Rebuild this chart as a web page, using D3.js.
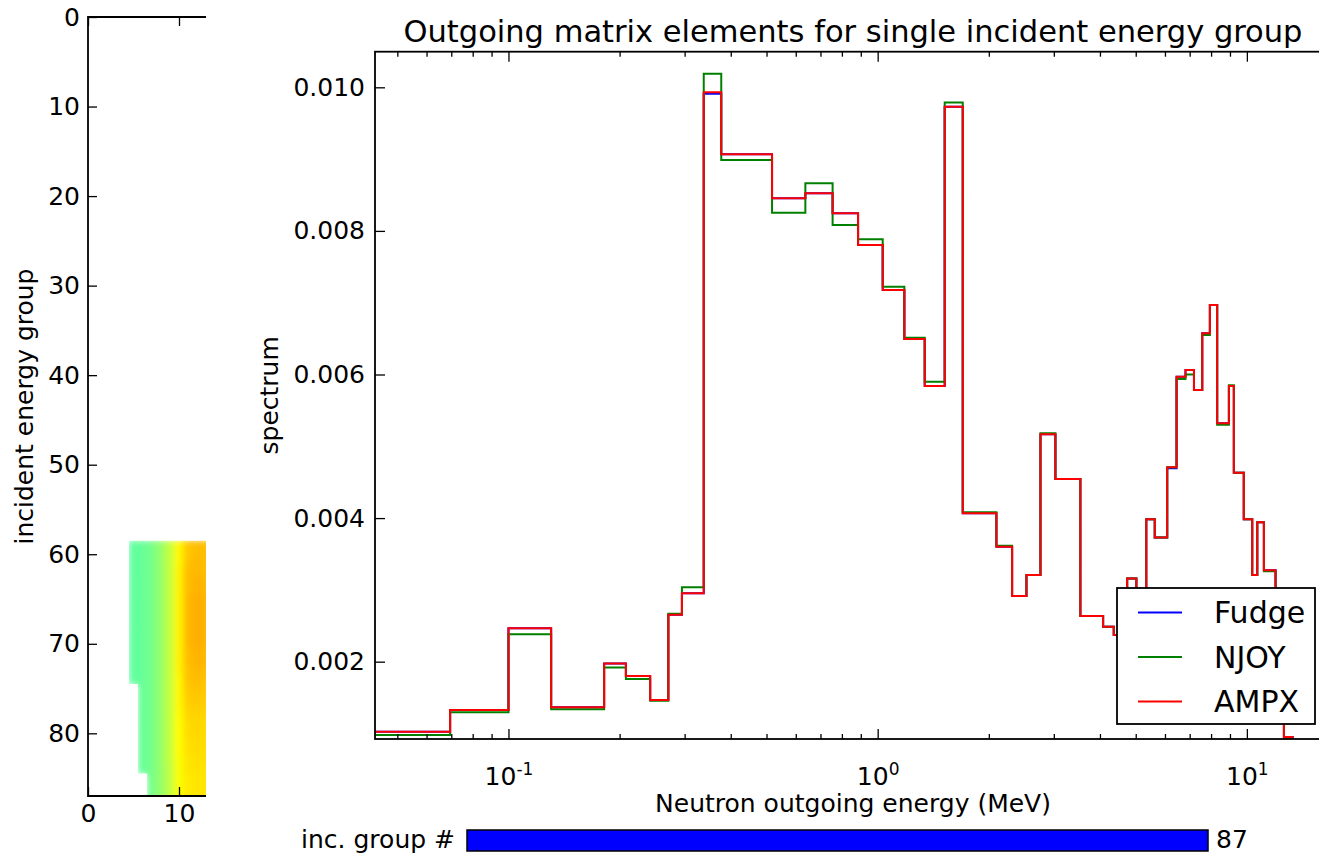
<!DOCTYPE html>
<html>
<head>
<meta charset="utf-8">
<title>Outgoing matrix elements</title>
<style>
body { margin: 0; background: #ffffff; }
svg { display: block; font-family: "DejaVu Sans", sans-serif; }
</style>
</head>
<body>
<script src="https://d3js.org/d3.v7.min.js"></script>
<script>

var W = 1319, H = 856;

// outgoing group boundaries (MeV)
var edges = [0.04, 0.0695, 0.1, 0.1305, 0.1816, 0.208, 0.242, 0.271, 0.295, 0.338,
  0.377, 0.5175, 0.637, 0.755, 0.885, 1.032, 1.181, 1.341, 1.519, 1.70,
  2.097, 2.313, 2.529, 2.76, 3.03, 3.54, 4.08, 4.36, 4.74, 5.02,
  5.34, 5.63, 6.085, 6.45, 6.82, 7.19, 7.57, 7.94, 8.31, 8.94,
  9.22, 9.81, 10.34, 10.67, 11.12, 11.96, 12.6, 13.3, 17.0];

var fudge = [0.001025, 0.001327, 0.002465, 0.001365, 0.001974, 0.001799, 0.001466, 0.002654, 0.002953, 0.00991,
  0.009067, 0.008454, 0.008524, 0.008245, 0.007804, 0.007177, 0.006494, 0.005840, 0.00973, 0.004067,
  0.003602, 0.002915, 0.003208, 0.005167, 0.004545, 0.002637, 0.002488, 0.00237, 0.003157, 0.0029,
  0.003984, 0.003731, 0.004695, 0.005969, 0.006063, 0.005784, 0.006574, 0.006968, 0.00532, 0.00584,
  0.004633, 0.003984, 0.003207, 0.003942, 0.003272, 0.0027, 0.00095, 0.0008];

var njoy = [0.000979, 0.001295, 0.002382, 0.001337, 0.001919, 0.001757, 0.001456, 0.002668, 0.003036, 0.01019,
  0.008988, 0.008253, 0.008663, 0.008082, 0.007883, 0.007223, 0.006513, 0.0059, 0.00979, 0.004081,
  0.003616, 0.002915, 0.003208, 0.00518, 0.004545, 0.002637, 0.002488, 0.002372, 0.003157, 0.0029,
  0.003984, 0.003731, 0.004708, 0.005937, 0.006, 0.005784, 0.00655, 0.006968, 0.0053, 0.00585,
  0.004633, 0.003984, 0.003207, 0.003942, 0.00326, 0.0027, 0.00094, 0.0008];

var ampx = [0.001025, 0.001327, 0.002465, 0.001365, 0.001974, 0.001799, 0.001466, 0.002654, 0.002953, 0.00993,
  0.009067, 0.008454, 0.008524, 0.008245, 0.007804, 0.007177, 0.006494, 0.005840, 0.00973, 0.004067,
  0.003602, 0.002915, 0.003208, 0.005167, 0.004545, 0.002637, 0.002488, 0.00237, 0.003157, 0.0029,
  0.003984, 0.003731, 0.004708, 0.005969, 0.006063, 0.005784, 0.006574, 0.006968, 0.00532, 0.00584,
  0.004633, 0.003984, 0.003207, 0.003942, 0.003272, 0.0027, 0.00095, 0.0008];

var seriesNames = ["Fudge", "NJOY", "AMPX"];
var seriesColors = ["#0000ff", "#008000", "#ff0000"];

var yTicks = [0.002, 0.004, 0.006, 0.008, 0.010];
var xTicks = [0.1, 1, 10];
var xTickExp = ["-1", "0", "1"];
var xMinor = [0.05, 0.06, 0.07, 0.08, 0.09, 0.2, 0.3, 0.4, 0.5, 0.6, 0.7, 0.8, 0.9,
  2, 3, 4, 5, 6, 7, 8, 9];

// left panel: matrix image (incident group rows x outgoing group cols)
var heatRows = [59, 60, 61, 62, 63, 64, 65, 66, 67, 68, 69, 70, 71, 72, 73, 74,
  75, 76, 77, 78, 79, 80, 81, 82, 83, 84, 85, 86, 87];
var heatCols = [5, 6, 7, 8, 9, 10, 11, 12, 13];
var heatVals = [
  [0.47, 0.475, 0.49, 0.52, 0.565, 0.63, 0.68, 0.69, 0.69],
  [0.47, 0.475, 0.49, 0.52, 0.565, 0.63, 0.68, 0.69, 0.69],
  [0.47, 0.475, 0.49, 0.52, 0.565, 0.63, 0.685, 0.695, 0.69],
  [0.47, 0.475, 0.49, 0.52, 0.565, 0.635, 0.69, 0.695, 0.69],
  [0.47, 0.475, 0.49, 0.52, 0.565, 0.635, 0.69, 0.70, 0.695],
  [0.47, 0.475, 0.49, 0.52, 0.565, 0.635, 0.69, 0.70, 0.695],
  [0.47, 0.475, 0.49, 0.52, 0.565, 0.635, 0.695, 0.705, 0.70],
  [0.47, 0.475, 0.49, 0.52, 0.565, 0.635, 0.695, 0.705, 0.70],
  [0.47, 0.475, 0.49, 0.52, 0.565, 0.635, 0.695, 0.705, 0.70],
  [0.47, 0.475, 0.49, 0.52, 0.565, 0.635, 0.695, 0.705, 0.70],
  [0.47, 0.475, 0.49, 0.52, 0.565, 0.635, 0.695, 0.705, 0.70],
  [0.47, 0.475, 0.49, 0.52, 0.565, 0.635, 0.695, 0.705, 0.70],
  [0.47, 0.475, 0.49, 0.52, 0.565, 0.635, 0.69, 0.70, 0.695],
  [0.47, 0.475, 0.49, 0.52, 0.565, 0.635, 0.69, 0.70, 0.695],
  [0.47, 0.475, 0.49, 0.52, 0.565, 0.635, 0.685, 0.695, 0.69],
  [0.47, 0.475, 0.49, 0.52, 0.565, 0.63, 0.685, 0.69, 0.685],
  [null, 0.475, 0.49, 0.52, 0.565, 0.63, 0.68, 0.685, 0.68],
  [null, 0.475, 0.49, 0.52, 0.565, 0.63, 0.675, 0.68, 0.675],
  [null, 0.475, 0.49, 0.52, 0.565, 0.63, 0.67, 0.675, 0.67],
  [null, 0.475, 0.49, 0.52, 0.565, 0.625, 0.665, 0.67, 0.665],
  [null, 0.475, 0.49, 0.52, 0.565, 0.625, 0.66, 0.665, 0.66],
  [null, 0.475, 0.49, 0.52, 0.565, 0.625, 0.66, 0.665, 0.66],
  [null, 0.475, 0.49, 0.52, 0.565, 0.625, 0.655, 0.66, 0.66],
  [null, 0.475, 0.49, 0.52, 0.565, 0.625, 0.655, 0.66, 0.655],
  [null, 0.475, 0.49, 0.52, 0.565, 0.62, 0.65, 0.655, 0.655],
  [null, 0.475, 0.49, 0.52, 0.56, 0.62, 0.65, 0.655, 0.65],
  [null, null, 0.49, 0.52, 0.56, 0.62, 0.645, 0.65, 0.65],
  [null, null, 0.49, 0.52, 0.56, 0.62, 0.645, 0.65, 0.65],
  [null, null, 0.49, 0.52, 0.56, 0.62, 0.645, 0.65, 0.65]
];
var groupTicks = [0, 10, 20, 30, 40, 50, 60, 70, 80];
var colTicks = [0, 10];
var incGroup = 87;
var nGroups = 87;

var svg = d3.select("body").append("svg")
  .attr("width", W)
  .attr("height", H);

var defs = svg.append("defs");

// ---------- main axes ----------
var mL = 375, mR = 1331, mT = 51.7, mB = 739;
var x = d3.scaleLog().domain([0.0435, 16.9]).range([mL, mR]);
var y = d3.scaleLinear().domain([0.000923, 0.010496]).range([mB, mT]);

defs.append("clipPath").attr("id", "mainClip")
  .append("rect").attr("x", mL).attr("y", mT).attr("width", mR - mL).attr("height", mB - mT);

var line = d3.line()
  .x(function(d) { return x(d[0]); })
  .y(function(d) { return y(d[1]); })
  .curve(d3.curveStepAfter);

function stepPoints(vals) {
  var pts = vals.map(function(v, i) { return [edges[i], v]; });
  pts.push([edges[edges.length - 1], vals[vals.length - 1]]);
  return pts;
}

var plot = svg.append("g").attr("clip-path", "url(#mainClip)");
[fudge, njoy, ampx].forEach(function(vals, k) {
  plot.append("path")
    .attr("d", line(stepPoints(vals)))
    .attr("fill", "none")
    .attr("stroke", seriesColors[k])
    .attr("stroke-width", 2);
});

// ticks (pointing inward)
function styleAxis(g) {
  g.select(".domain").remove();
  g.selectAll(".tick line").attr("stroke", "#000").attr("stroke-width", 1.3);
  g.selectAll(".tick text").attr("fill", "#000").attr("font-size", 25)
    .attr("font-family", "DejaVu Sans, sans-serif");
}

svg.append("g").attr("transform", "translate(0," + mB + ")")
  .call(d3.axisBottom(x).tickValues(xMinor).tickSize(-5).tickFormat(""))
  .call(styleAxis);
svg.append("g").attr("transform", "translate(0," + mT + ")")
  .call(d3.axisTop(x).tickValues(xMinor).tickSize(-5).tickFormat(""))
  .call(styleAxis);
svg.append("g").attr("transform", "translate(0," + mT + ")")
  .call(d3.axisTop(x).tickValues(xTicks).tickSize(-10).tickFormat(""))
  .call(styleAxis);

var xAx = svg.append("g").attr("transform", "translate(0," + mB + ")")
  .call(d3.axisBottom(x).tickValues(xTicks).tickSize(-10).tickPadding(28).tickFormat(""))
  .call(styleAxis);
xAx.selectAll(".tick text").each(function(d, i) {
  var t = d3.select(this).attr("dy", "0.71em");
  t.append("tspan").text("10");
  t.append("tspan").text(xTickExp[i]).attr("font-size", 17).attr("dy", "-0.55em");
});

svg.append("g").attr("transform", "translate(" + mL + ",0)")
  .call(d3.axisLeft(y).tickValues(yTicks).tickSize(-10).tickPadding(10).tickFormat(d3.format(".3f")))
  .call(styleAxis);
svg.append("g").attr("transform", "translate(" + mR + ",0)")
  .call(d3.axisRight(y).tickValues(yTicks).tickSize(-10).tickFormat(""))
  .call(styleAxis);

svg.append("rect")
  .attr("x", mL).attr("y", mT).attr("width", mR - mL).attr("height", mB - mT)
  .attr("fill", "none").attr("stroke", "#000").attr("stroke-width", 1.8);

svg.append("text")
  .attr("x", (mL + mR) / 2).attr("y", 41.7)
  .attr("text-anchor", "middle").attr("font-size", 30.5).attr("fill", "#000")
  .text("Outgoing matrix elements for single incident energy group");

svg.append("text")
  .attr("x", (mL + mR) / 2).attr("y", 812)
  .attr("text-anchor", "middle").attr("font-size", 25).attr("fill", "#000")
  .text("Neutron outgoing energy (MeV)");

svg.append("text")
  .attr("transform", "translate(278," + (mT + mB) / 2 + ") rotate(-90)")
  .attr("text-anchor", "middle").attr("font-size", 25).attr("fill", "#000")
  .text("spectrum");

// legend
var lg = svg.append("g");
lg.append("rect")
  .attr("x", 1117).attr("y", 588).attr("width", 198).attr("height", 136)
  .attr("fill", "#fff").attr("stroke", "#000").attr("stroke-width", 1.8);
seriesNames.forEach(function(name, i) {
  var yy = 612.5 + i * 44.5;
  lg.append("line")
    .attr("x1", 1138).attr("x2", 1182).attr("y1", yy).attr("y2", yy)
    .attr("stroke", seriesColors[i]).attr("stroke-width", 2);
  lg.append("text")
    .attr("x", 1214).attr("y", yy).attr("dy", "0.36em")
    .attr("font-size", 30).attr("fill", "#000")
    .text(name);
});

// ---------- left panel (matrix image) ----------
var lL = 88, lT = 17, lB = 796, lClipR = 206;
var xl = d3.scaleLinear().domain([0, 10]).range([lL, 179]);
var yl = d3.scaleLinear().domain([0, 87]).range([lT, lB]);

function jet(v) {
  var c = function(t) { return Math.round(255 * Math.max(0, Math.min(1, t))); };
  return d3.rgb(c(1.5 - Math.abs(4 * v - 3)), c(1.5 - Math.abs(4 * v - 2)), c(1.5 - Math.abs(4 * v - 1)));
}

var cells = [];
heatRows.forEach(function(r, i) {
  heatCols.forEach(function(cIdx, j) {
    var v = heatVals[i][j];
    if (v !== null) cells.push({ r: r, c: cIdx, v: v });
  });
});

function cellPath(d) {
  var x0 = xl(d.c - 0.5), x1 = xl(d.c + 0.5), y0 = yl(d.r - 0.5), y1 = yl(d.r + 0.5);
  return "M" + x0 + "," + y0 + "H" + x1 + "V" + y1 + "H" + x0 + "Z";
}

defs.append("clipPath").attr("id", "leftClip")
  .append("rect").attr("x", lL).attr("y", lT).attr("width", lClipR - lL).attr("height", lB - lT);

// outline of the non-empty cells as one path (no seams)
defs.append("clipPath").attr("id", "heatShape")
  .append("path").attr("d", cells.map(cellPath).join(""));

defs.append("filter").attr("id", "soft")
  .attr("x", "-10%").attr("y", "-10%").attr("width", "120%").attr("height", "120%")
  .append("feGaussianBlur").attr("stdDeviation", 3);

svg.append("g").attr("clip-path", "url(#leftClip)")
  .append("g").attr("clip-path", "url(#heatShape)")
  .append("g").attr("filter", "url(#soft)")
  .selectAll("rect").data(cells).enter().append("rect")
  .attr("x", function(d) { return xl(d.c - 0.5) - 0.5; })
  .attr("y", function(d) { return yl(d.r - 0.5) - 0.5; })
  .attr("width", function(d) { return xl(d.c + 0.5) - xl(d.c - 0.5) + 1; })
  .attr("height", function(d) { return yl(d.r + 0.5) - yl(d.r - 0.5) + 1; })
  .attr("fill", function(d) { return jet(d.v); });

var leftAx = svg.append("g").attr("clip-path", "url(#leftClip)");
leftAx.append("g").attr("transform", "translate(" + lL + ",0)")
  .call(d3.axisLeft(yl).tickValues(groupTicks).tickSize(-9).tickFormat(""))
  .call(styleAxis);
leftAx.append("g").attr("transform", "translate(0," + lT + ")")
  .call(d3.axisTop(xl).tickValues(colTicks).tickSize(-9).tickFormat(""))
  .call(styleAxis);
leftAx.append("g").attr("transform", "translate(0," + lB + ")")
  .call(d3.axisBottom(xl).tickValues(colTicks).tickSize(-9).tickFormat(""))
  .call(styleAxis);

// tick labels of left panel
svg.append("g").attr("transform", "translate(" + lL + ",0)")
  .call(d3.axisLeft(yl).tickValues(groupTicks).tickSize(0).tickPadding(8))
  .call(styleAxis);
svg.append("g").attr("transform", "translate(0," + lB + ")")
  .call(d3.axisBottom(xl).tickValues(colTicks).tickSize(0).tickPadding(8))
  .call(styleAxis);

svg.append("path")
  .attr("d", "M" + lClipR + "," + lT + "H" + lL + "V" + lB + "H" + lClipR)
  .attr("fill", "none").attr("stroke", "#000").attr("stroke-width", 1.8);

svg.append("text")
  .attr("transform", "translate(33," + (lT + lB) / 2 + ") rotate(-90)")
  .attr("text-anchor", "middle").attr("font-size", 25).attr("fill", "#000")
  .text("incident energy group");

// ---------- slider ----------
var xs = d3.scaleLinear().domain([0, nGroups]).range([467, 1208]);
svg.append("rect")
  .attr("x", xs(0)).attr("y", 830)
  .attr("width", xs(incGroup) - xs(0)).attr("height", 21)
  .attr("fill", "#0000ff").attr("stroke", "#000").attr("stroke-width", 1.5);
svg.append("text")
  .attr("x", 455).attr("y", 848).attr("text-anchor", "end")
  .attr("font-size", 25).attr("fill", "#000")
  .text("inc. group #");
svg.append("text")
  .attr("x", 1216).attr("y", 848)
  .attr("font-size", 25).attr("fill", "#000")
  .text(incGroup);

</script>
</body>
</html>
